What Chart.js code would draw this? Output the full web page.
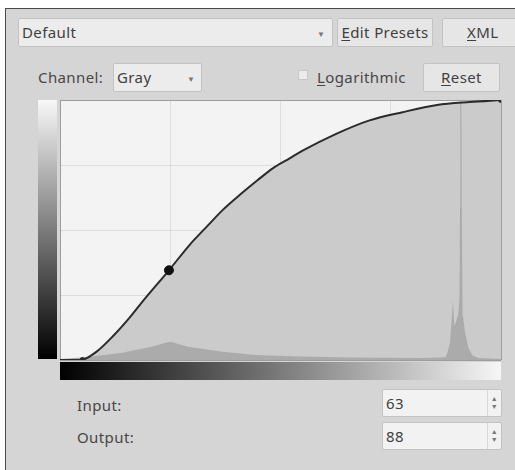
<!DOCTYPE html>
<html lang="en">
<head>
  <meta charset="utf-8">
  <title>Curves</title>
  <script src="https://cdn.jsdelivr.net/npm/chart.js"></script>
  <style>
    html, body { margin: 0; padding: 0; }
    body { width: 515px; height: 470px; overflow: hidden; background: #fff; position: relative;
           font-family: "Noto Sans", "Open Sans", sans-serif; font-size: 15px; letter-spacing: 0.4px; color: #3f3f3f; }
    .dialog { position: absolute; left: 5px; top: 8px; width: 520px; height: 470px; background: #d5d5d5;
              border-left: 1px solid #4a4a4a; border-top: 1px solid #4a4a4a; }
    .box { position: absolute; box-sizing: border-box; background: #ececec; border: 1px solid #c3c3c3;
           border-radius: 2px; line-height: 27px; padding-left: 3px; }
    .btn { text-align: center; padding-left: 0; background: #e6e6e6; }
    .arrow { position: absolute; font-size: 8px; color: #777; }
    .lbl { position: absolute; line-height: 20px; color: #474747; }
    .spin { position: absolute; right: 0; top: 0; bottom: 0; width: 14px; border-left: 1px solid #d8d8d8;
            font-size: 7px; line-height: 8px; color: #777; text-align: center; padding-top: 5px; box-sizing: border-box; }
    u { text-decoration: underline; text-underline-offset: 2px; }
    #plotbg { position: absolute; left: 60px; top: 100px; width: 441px; height: 260px; background: #f3f3f3; }
    #chart { position: absolute; left: 60px; top: 100px; }
    #vgrad { position: absolute; left: 38px; top: 100px; width: 19px; height: 259px;
             background: linear-gradient(to bottom, #f8f8f8, #000); }
    #hgrad { position: absolute; left: 60px; top: 362px; width: 441px; height: 18px;
             background: linear-gradient(to right, #000, #f6f6f6); }
  </style>
</head>
<body>
  <div class="dialog"></div>

  <div class="box" style="left:18px; top:18px; width:315px; height:29px;">Default</div>
  <span class="arrow" style="left:317px; top:28px;">&#9660;</span>
  <div class="box btn" style="left:337px; top:18px; width:96px; height:29px;"><u>E</u>dit Presets</div>
  <div class="box btn" style="left:442px; top:18px; width:82px; height:29px; text-align:left; padding-left:24px;"><u>X</u>ML</div>

  <div class="lbl" style="left:38px; top:67px;">Channel:</div>
  <div class="box" style="left:113px; top:63px; width:89px; height:29px;">Gray</div>
  <span class="arrow" style="left:187px; top:73px;">&#9660;</span>
  <div style="position:absolute; left:298px; top:70px; width:10px; height:10px; background:#ececec; border:1px solid #c8c8c8; box-sizing:border-box;"></div>
  <div class="lbl" style="left:317px; top:67px;"><u>L</u>ogarithmic</div>
  <div class="box btn" style="left:423px; top:63px; width:77px; height:29px;"><u>R</u>eset</div>

  <div id="vgrad"></div>
  <div id="plotbg"></div>
  <canvas id="chart" width="443" height="262"></canvas>
  <div id="hgrad"></div>

  <div class="lbl" style="left:77px; top:395px;">Input:</div>
  <div class="box" style="left:382px; top:389px; width:120px; height:28px; background:#f2f2f2;">63<div class="spin">&#9650;<br>&#9660;</div></div>
  <div class="lbl" style="left:77px; top:427px;">Output:</div>
  <div class="box" style="left:382px; top:422px; width:120px; height:28px; background:#f2f2f2;">88<div class="spin">&#9650;<br>&#9660;</div></div>

  <script>
    // curve (input -> output, 0..255)
    const curveIn  = [0, 12, 21, 31, 40, 49, 63, 75, 85, 94, 104, 114, 123, 133, 140, 160, 179, 198, 218, 237, 255];
    const curveOut = [0, 0, 8, 24, 41, 60, 88, 113, 131, 147, 162, 176, 188, 198, 205, 222, 235, 243, 250, 253, 255];

    // control points
    const pointIn  = [13, 255];
    const pointOut = [0, 255];
    const selectedIn  = [63];
    const selectedOut = [88];

    // histogram outline (input value -> bar height in output units)
    const histIn    = [0, 16, 36, 53, 61, 64, 68, 74, 94, 113, 139, 168, 208, 220, 223, 224, 225.5, 226.5, 227.2, 228,
                       229, 230.3, 231, 231.3, 231.5, 232.1, 232.3, 232.8, 234.2, 236, 238.2, 241.7, 255];
    const histCount = [1, 3, 7, 13, 17, 18, 16, 13, 8, 5, 3.5, 2.5, 2, 2.5, 3, 7, 17, 40, 58, 33,
                       38, 45, 60, 150, 255, 255, 150, 45, 27, 13, 5, 2, 1];

    const gridTicks = [0, 63.75, 127.5, 191.25, 255];

    const toXY = (xs, ys) => xs.map((x, i) => ({ x: x, y: ys[i] }));
    const edgeColor = c => (c.tick && (c.tick.value === 0 || c.tick.value === 255)) ? '#9d9d9d' : 'rgba(0,0,0,0.09)';

    new Chart(document.getElementById('chart').getContext('2d'), {
      type: 'line',
      data: {
        datasets: [
          { data: toXY(curveIn, curveOut), fill: 'origin', backgroundColor: '#cbcbcb', borderWidth: 0,
            pointRadius: 0, cubicInterpolationMode: 'monotone', order: 4 },
          { data: toXY(histIn, histCount), fill: 'origin', backgroundColor: '#ababab', borderWidth: 0,
            pointRadius: 0, tension: 0, order: 3 },
          { data: toXY(curveIn, curveOut), fill: false, borderColor: '#2b2b2b', borderWidth: 2,
            pointRadius: 0, cubicInterpolationMode: 'monotone', order: 2 },
          { data: toXY(pointIn, pointOut), showLine: false, pointRadius: 2.5, backgroundColor: '#2b2b2b',
            borderColor: '#2b2b2b', order: 1 },
          { data: toXY(selectedIn, selectedOut), showLine: false, pointRadius: 4.5, backgroundColor: '#111',
            borderColor: '#111', order: 0 }
        ]
      },
      options: {
        responsive: false,
        animation: false,
        layout: { autoPadding: false, padding: { left: 0, top: 0, right: 2, bottom: 2 } },
        plugins: { legend: { display: false }, tooltip: { enabled: false } },
        scales: {
          x: {
            type: 'linear', min: 0, max: 255, z: 1,
            afterBuildTicks: s => { s.ticks = gridTicks.map(v => ({ value: v })); },
            ticks: { display: false },
            grid: { color: edgeColor, drawTicks: false, tickLength: 0 },
            border: { display: false }
          },
          y: {
            type: 'linear', min: 0, max: 255, z: 1,
            afterBuildTicks: s => { s.ticks = gridTicks.map(v => ({ value: v })); },
            ticks: { display: false },
            grid: { color: edgeColor, drawTicks: false, tickLength: 0 },
            border: { display: false }
          }
        }
      }
    });
  </script>
</body>
</html>
